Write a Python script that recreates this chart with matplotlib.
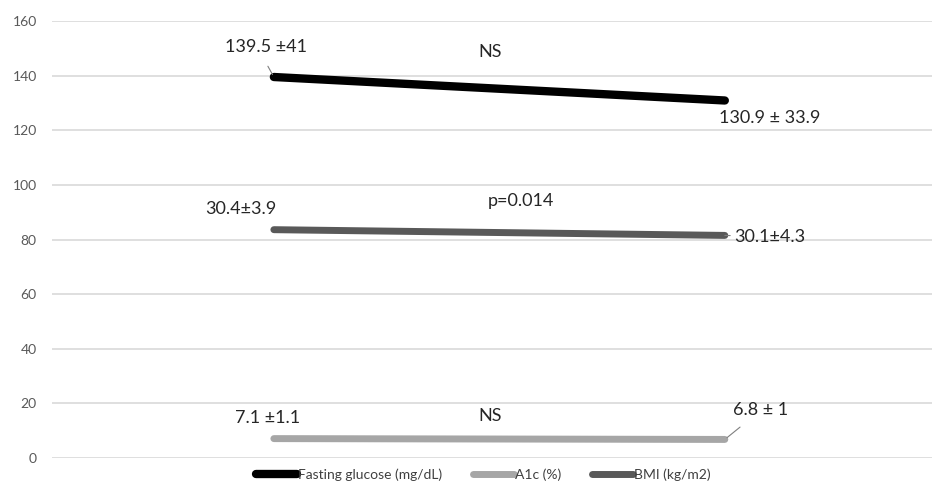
import matplotlib.pyplot as plt

plt.rcParams['font.family'] = ['Lato', 'DejaVu Sans']

# data
visits = [0, 1]
glucose = [139.5, 130.9]
a1c = [7.1, 6.8]
bmi_plot = [83.6, 81.5]
glucose_labels = ['139.5 \u00b141', '130.9 \u00b1 33.9']
a1c_labels = ['7.1 \u00b11.1', '6.8 \u00b1 1']
bmi_labels = ['30.4\u00b13.9', '30.1\u00b14.3']
pvals = ['NS', 'NS', 'p=0.014']
yticks = [0, 20, 40, 60, 80, 100, 120, 140, 160]

fig = plt.figure(figsize=(9.35, 4.91), dpi=100)
ax = fig.add_axes([0.0556, 0.0672, 0.941, 0.89])

ax.set_ylim(0, 160)
ax.set_xlim(-0.492, 1.459)
ax.set_yticks(yticks)
ax.set_xticks([])
ax.grid(axis='y', color='#d9d9d9', linewidth=1.2)
ax.set_axisbelow(True)
for s in ax.spines.values():
    s.set_visible(False)
ax.tick_params(axis='y', length=0, labelsize=10, labelcolor='#595959', pad=11)

ax.plot(visits, glucose, color='black', lw=6, solid_capstyle='round', label='Fasting glucose (mg/dL)')
ax.plot(visits, a1c, color='#a6a6a6', lw=5, solid_capstyle='round', label='A1c (%)')
ax.plot(visits, bmi_plot, color='#595959', lw=5, solid_capstyle='round', label='BMI (kg/m2)')

fs = 13
tc = '#262626'
# glucose labels
ax.annotate(glucose_labels[0], xy=(visits[0], glucose[0]), xytext=(-0.018, 150.5),
            ha='center', va='center', fontsize=fs, color=tc,
            arrowprops=dict(arrowstyle='-', color='#7f7f7f', lw=0.8, shrinkA=7, shrinkB=2,
                            relpos=(0.45, 0)))
ax.text(1.1, 124.5, glucose_labels[1], ha='center', va='center', fontsize=fs, color=tc)
ax.text(0.48, 148.5, pvals[0], ha='center', va='center', fontsize=fs, color=tc)

# bmi labels
ax.text(-0.073, 91, bmi_labels[0], ha='center', va='center', fontsize=fs, color=tc)
ax.annotate(bmi_labels[1], xy=(visits[1], bmi_plot[1]), xytext=(1.1, 81.0),
            ha='center', va='center', fontsize=fs, color=tc,
            arrowprops=dict(arrowstyle='-', color='#7f7f7f', lw=0.8, shrinkA=1, shrinkB=4))
ax.text(0.548, 94, pvals[2], ha='center', va='center', fontsize=fs, color=tc)

# a1c labels
ax.text(-0.015, 14.5, a1c_labels[0], ha='center', va='center', fontsize=fs, color=tc)
ax.annotate(a1c_labels[1], xy=(visits[1], a1c[1]), xytext=(1.08, 17.5),
            ha='center', va='center', fontsize=fs, color=tc,
            arrowprops=dict(arrowstyle='-', color='#7f7f7f', lw=0.8, shrinkA=7, shrinkB=2))
ax.text(0.48, 15.5, pvals[1], ha='center', va='center', fontsize=fs, color=tc)

leg = ax.legend(loc='upper center', bbox_to_anchor=(0.49, 0.005), ncol=3, frameon=False,
                fontsize=10, handlelength=3.0, handletextpad=0.05, columnspacing=2.2,
                labelcolor='#404040')

fig.savefig('out.png', dpi=100)
